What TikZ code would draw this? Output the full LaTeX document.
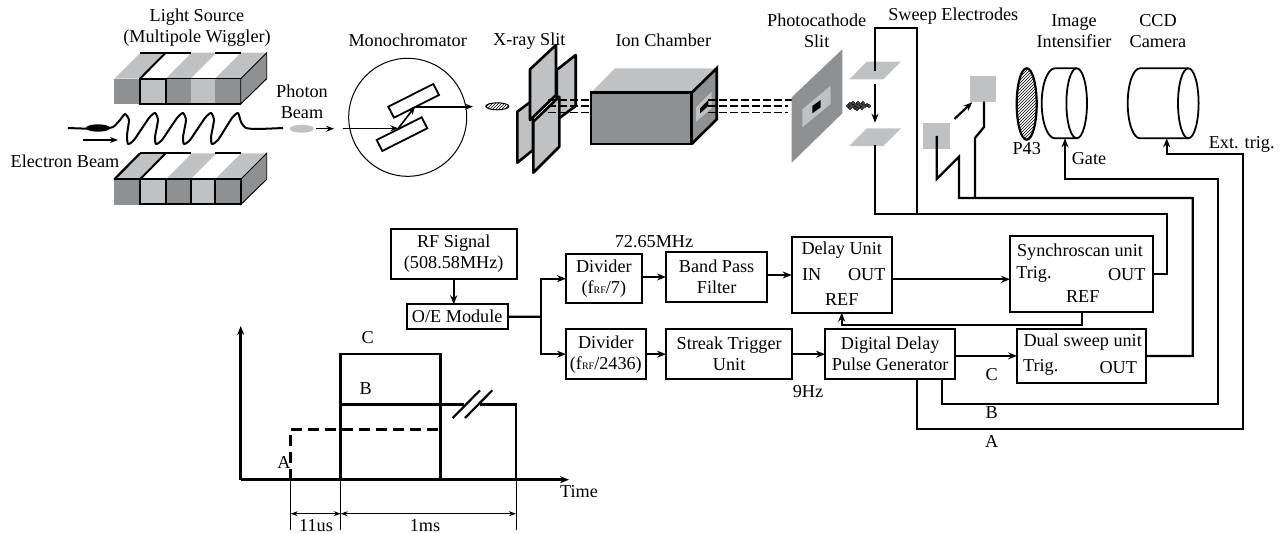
\documentclass[tikz,border=0pt]{standalone}
\usepackage{fontspec}
\setmainfont{Liberation Serif}
\usepackage{xcolor}
\usepackage{tikz}
\usetikzlibrary{arrows.meta, positioning, patterns}
\definecolor{dkg}{HTML}{8F9092}
\definecolor{ltg}{HTML}{C0C1C3}

\begin{document}
\begin{tikzpicture}[x=1pt, y=-1pt, node distance=24pt, font=\fontsize{18.2}{21}\selectfont]
	% Styles
	\tikzstyle{block} = [draw, line width=2.2pt, rectangle, inner sep=0pt, outer sep=0pt, align=center]
	\tikzstyle{lab} = [inner sep=0pt, align=center]
	\tikzstyle{wire} = [line width=2.2pt, line join=miter]
	\tikzstyle{arrow} = [line width=2.2pt, -{Stealth[length=9pt, width=7pt]}]
	\tikzstyle{slim} = [line width=1.6pt, -{Stealth[length=8pt, width=6pt]}]
	\tikzstyle{dim} = [line width=1pt]
	\tikzstyle{elec} = [fill=ltg, inner sep=0pt, outer sep=0pt, minimum width=26.7pt, minimum height=26.3pt]
	\tikzstyle{beam} = [line width=1.3pt, dash pattern=on 8pt off 3pt]
	\tikzstyle{jaw} = [fill=ltg, draw, line width=2.6pt, line join=round]
	\useasboundingbox (0,0) rectangle (1283,533);

	% Wiggler
	\foreach \ty in {78.7,179.3} {
		\foreach \xa/\xb/\fr/\tp in {114.3/140/dkg/ltg, 140/165.7/ltg/white, 165.7/190.7/dkg/ltg, 190.7/215/ltg/white, 215/240.7/dkg/ltg} {
			\fill [\fr] (\xa,\ty) rectangle (\xb,\ty+25.3);
			\fill [\tp] (\xa,\ty) -- (\xa+26,\ty-26) -- (\xb+26,\ty-26) -- (\xb,\ty) -- cycle;
		}
		\fill [dkg] (240.7,\ty) -- (266.7,\ty-26) -- (266.7,\ty) -- (240.7,\ty+25.3) -- cycle;
		\draw [line width=.9pt] (240.7,\ty) -- (266.7,\ty-26) -- (266.7,\ty) -- (240.7,\ty+25.3) -- cycle;
		\draw [line width=2pt] (140,\ty-26) -- (190.7,\ty-26) (215,\ty-26) -- (240.7,\ty-26);
		\draw [line width=2pt] (140,\ty) -- (165.7,\ty-26);
	}
	\draw [wire] (140,78.7) rectangle (165.7,104);
	\draw [line width=1.4pt] (165.7,104) -- (240.7,104) (165.7,78.7) -- (240.7,78.7);
	\draw [wire] (114.3,179.3) -- (140,153.3);
	\draw [wire] (114.3,179.3) -- (240.7,179.3);
	\draw [wire] (140,179.3) rectangle (240.7,204);
	\foreach \xa in {165.7,190.7,215} \draw [wire] (\xa,179.3) -- (\xa,204);
	\draw [line width=2pt, line join=round] plot [smooth, tension=.35] coordinates {(68,128) (100,129) (113,127) (120,120) (125,114) (129,120) (127,135) (128,144) (134,140) (149,118) (155,113) (158,120) (155,137) (156,144) (162,140) (177,118) (183,113) (186,120) (183,137) (184,144) (190,140) (205,118) (211,113) (214,120) (211,137) (212,144) (218,140) (232,118) (238,113) (241,122) (246,128) (258,129) (283,128)};
	\fill (98,128) ellipse [x radius=12pt, y radius=3.7pt];
	\coordinate (ebstart) at (83,140);
	\coordinate (ebend) at (118,140);
	\draw [slim] (ebstart) -- (ebend);
	\fill [ltg] (301.7,128.7) ellipse [x radius=12pt, y radius=4pt];
	\coordinate (pbstart) at (316,128.7);
	\coordinate (pbend) at (334,128.7);
	\draw [slim, line width=1.1pt] (pbstart) -- (pbend);
	\node [lab] at (197,27.5) {Light Source\\(Multipole Wiggler)};
	\node [lab] at (302,102) {Photon\\Beam};
	\node [lab] at (65,161) {Electron Beam};

	% Monochromator
	\draw [line width=1pt] (407.7,117.3) circle [radius=59pt];
	\draw [line width=1.8pt] (388.3,106.7) -- (433.3,84) -- (439,95) -- (394,117.7) -- cycle;
	\draw [line width=1.8pt] (376.7,140) -- (421.7,117.3) -- (427.3,128.3) -- (382.3,151) -- cycle;
	\coordinate (mcin) at (342.7,128.3);
	\coordinate (mcone) at (398.3,128.3);
	\coordinate (mctwo) at (415,106.7);
	\coordinate (mcout) at (473,106.7);
	\draw [slim] (mcin) -- (mcone);
	\draw [slim] (mcone) -- (mctwo);
	\draw [slim] (mctwo) -- (mcout);
	\node [lab] at (407.7,40.7) {Monochromator};
	\filldraw [pattern=north east lines, line width=1pt] (497.3,106.3) ellipse [x radius=11.5pt, y radius=3.5pt];

	% X-ray slit
	\node [lab] at (529.3,40.7) {X-ray Slit};
	\draw [jaw] (556.7,70) -- (575.7,55) -- (575.7,106) -- (556.7,120) -- cycle;
	\draw [jaw] (517.3,111.7) -- (533,100) -- (533,150) -- (517.3,162.7) -- cycle;
	\draw [jaw] (530,69.3) -- (556,45) -- (556,95) -- (530,120) -- cycle;
	\draw [jaw] (533.3,121.7) -- (559.3,96.7) -- (559.3,146.7) -- (533.3,172.7) -- cycle;
	\foreach \yb in {100,106,112.7} \draw [beam] (548,\yb) -- (591,\yb);

	% Ion chamber
	\node [lab] at (663.3,40) {Ion Chamber};
	\fill [ltg] (591,92.7) -- (615,68.3) -- (716.7,68.3) -- (691.7,92.7) -- cycle;
	\fill [dkg] (691.7,92.7) -- (716.7,68.3) -- (716.7,119.3) -- (691.7,144) -- cycle;
	\filldraw [fill=dkg, line width=2.6pt] (591,92.7) rectangle (691.7,144);
	\draw [line width=2.6pt] (691.7,92.7) -- (716.7,68.3) -- (716.7,119.3) -- (691.7,144);
	\fill [ltg] (696,107.3) -- (711.7,91.7) -- (711.7,108.3) -- (696,121.7) -- cycle;
	\fill (700,108.3) -- (708.3,100) -- (708.3,106) -- (700,113.3) -- cycle;
	\foreach \yb/\xb in {100/791.7,106/788,112.7/788} \draw [beam] (708,\yb) -- (\xb,\yb);

	% Photocathode
	\node [lab] at (816.7,31) {Photocathode\\Slit};
	\fill [dkg] (791.7,97.3) -- (842.3,49.3) -- (842.3,113.3) -- (791.7,162.7) -- cycle;
	\fill [ltg] (802.3,109.3) -- (830.7,85.7) -- (830.7,104) -- (802.3,127.3) -- cycle;
	\fill (812.3,106) -- (820.7,100) -- (820.7,107.3) -- (812.3,113.3) -- cycle;
	\foreach \xe/\ye in {848/106,850/104,850/108,853/106,853/103,855/108,856/105,858/103,859/107,861/105,862/108,863/103,865/106,867/105,869/106,857/109} \draw [line width=.9pt, fill=white] (\xe,\ye) circle [radius=1.4pt];

	% Sweep electrodes
	\node [lab] at (953.3,15.7) {Sweep Electrodes};
	\fill [ltg] (849.3,79.3) -- (866.7,61.7) -- (901,61.7) -- (883.3,79.3) -- cycle;
	\fill [ltg] (849.3,146) -- (866.7,128.3) -- (901,128.3) -- (883.3,146) -- cycle;
	\coordinate (upplate) at (875,70.7);
	\coordinate (lowplate) at (875,145);
	\coordinate (sweepa) at (875,84);
	\coordinate (sweepb) at (875,122.7);
	\draw [arrow] (sweepa) -- (sweepb);
	\node (sweepl) [elec] at (936.7,135.9) {};
	\node (sweepr) [elec] at (983,88.9) {};
	\coordinate (sweepc) at (954.3,119);
	\coordinate (sweepd) at (972.3,102.3);
	\draw [arrow] (sweepc) -- (sweepd);

	% Screen, intensifier, camera
	\filldraw [pattern=north east lines, line width=2.2pt] (1026.7,104) ellipse [x radius=10pt, y radius=35.7pt];
	\node [lab] at (1026.7,149) {P43};
	\draw [line width=1.8pt] (1055,68.3) arc [start angle=90, end angle=270, x radius=13.3pt, y radius=35pt] -- (1076.7,138.3) (1055,68.3) -- (1076.7,68.3);
	\draw [line width=1.8pt] (1076.7,103.3) ellipse [x radius=10.3pt, y radius=35pt];
	\draw [line width=1.8pt] (1140,68.3) arc [start angle=90, end angle=270, x radius=12.3pt, y radius=35pt] -- (1188.3,138.3) (1140,68.3) -- (1188.3,68.3);
	\draw [line width=1.8pt] (1188.3,103.3) ellipse [x radius=10.3pt, y radius=35pt];
	\coordinate (iibot) at (1065,138.3);
	\coordinate (ccdbot) at (1166.7,138.3);
	\node [lab] at (1074,31) {Image\\Intensifier};
	\node [lab] at (1158,31) {CCD\\Camera};
	\node [lab] at (1089,159) {Gate};
	\node [lab] at (1241.7,144) {Ext. trig.};

	% Nodes
	\node (rf) [block, minimum width=126pt, minimum height=50pt] at (453.7,254) {RF Signal\\(508.58MHz)};
	\node (oe) [block, below=25.3pt of rf, xshift=3.5pt, minimum width=101pt, minimum height=24.7pt] {O/E Module};
	\node (divone) [block, right=49.3pt of rf, yshift=-24.7pt, minimum width=75.7pt, minimum height=49.3pt] {Divider\\(f{\fontsize{10}{10}\selectfont RF}/7)};
	\node (divtwo) [block, below=26pt of divone, xshift=2pt, minimum width=79.7pt, minimum height=49.7pt] {Divider\\(f{\fontsize{10}{10}\selectfont RF}/2436)};
	\node (bandpass) [block, right=24.3pt of divone, yshift=1.7pt, minimum width=101.3pt, minimum height=49.4pt] {Band Pass\\Filter};
	\node (streak) [block, right=20.3pt of divtwo, minimum width=126.3pt, minimum height=49.7pt] {Streak Trigger\\Unit};
	\node (delay) [block, right=24.4pt of bandpass, yshift=2pt, minimum width=100.3pt, minimum height=75.4pt] {};
	\node (ddpg) [block, right=32.7pt of streak, minimum width=130.3pt, minimum height=50pt] {Digital Delay\\Pulse Generator};
	\node (sync) [block, right=118pt of delay, yshift=1.2pt, minimum width=142.7pt, minimum height=75.7pt] {};
	\node (dual) [block, right=61.7pt of ddpg, yshift=-1.7pt, minimum width=128.7pt, minimum height=54pt] {};
	\node [lab] at (841.7,250) {Delay Unit};
	\node [lab] at (811.7,274.3) {IN};
	\node [lab] at (866.7,274.3) {OUT};
	\node [lab] at (841.7,300) {REF};
	\node [lab] at (1080,252.3) {Synchroscan unit};
	\node [lab] at (1034,274.3) {Trig.};
	\node [lab] at (1126.7,274.3) {OUT};
	\node [lab] at (1082.7,296.7) {REF};
	\node [lab] at (1082.7,341.7) {Dual sweep unit};
	\node [lab] at (1040.7,367.7) {Trig.};
	\node [lab] at (1118.3,367.7) {OUT};
	\node [lab] at (654,242) {72.65MHz};
	\node [lab] at (808,392) {9Hz};
	\node [lab] at (991.7,375) {C};
	\node [lab] at (991.7,413) {B};
	\node [lab] at (991.7,441) {A};
	\coordinate (branch) at (540.7,316.7);
	\coordinate (atap) at (916.7,429.3);
	\coordinate (btap) at (942,404);

	% Connections
	\draw [arrow] (rf) -- (rf |- oe.north);
	\draw [wire] (oe) -- (branch);
	\draw [arrow] (branch) |- (divone);
	\draw [arrow] (branch) |- (divtwo);
	\draw [arrow] (divone.east |- bandpass) -- (bandpass);
	\draw [arrow] (divtwo) -- (streak);
	\draw [arrow] (bandpass.east |- delay) -- (delay);
	\draw [arrow] (streak) -- (ddpg);
	\draw [arrow] ([yshift=-4.3pt]delay.east) -- ([yshift=-4.3pt]delay.east -| sync.west);
	\draw [arrow] (ddpg.east |- dual) -- (dual);
	\draw [arrow] (sync.south -| 1082,0) |- (841.7,325.3) -- (841.7,312.7);
	\draw [wire] (sync.east) -| (1167,214) -- (875,214) -- (lowplate);
	\draw [wire] (917,214) -- (917,28.3) -- (875,28.3) -- (upplate);
	\draw [wire] (dual.east) -| (1192.7,198) -- (959,198) -- (959,156.7) -- (936.7,179) -- (sweepl.center);
	\draw [wire] (975,198) -- (975,138) -- (984,127) -- (984,101.7);
	\draw [arrow] (btap |- ddpg.south) -- (btap) -| (1217.7,179.3) -| (iibot);
	\draw [arrow] (atap |- ddpg.south) -- (atap) -| (1242.7,154) -| (ccdbot);

	% Timing
	\coordinate (org) at (240.7,479.7);
	\coordinate (ytop) at (240.7,326);
	\coordinate (xend) at (569,479.7);
	\draw [arrow, line width=2.8pt] (org) -- (ytop);
	\draw [arrow, line width=2.8pt] (org) -- (xend);
	\draw [line width=2.8pt, dash pattern=on 11pt off 6pt] (290.7,479.7) -- (290.7,429.3) -- (440.7,429.3);
	\draw [line width=2.8pt] (340.7,479.7) -- (340.7,354) -- (440.7,354) -- (440.7,479.7);
	\draw [line width=2.4pt] (340.7,404.3) -- (516,404.3) -- (516,479.7);
	\draw [white, line width=5pt] (464,404.3) -- (480,404.3);
	\draw [line width=2.2pt] (452.7,418) -- (480,390.3) (465,418) -- (492.3,390.3);
	\foreach \xt in {290.7,340.7,516} \draw [dim] (\xt,479.7) -- (\xt,530);
	\coordinate (tone) at (290.7,513.7);
	\coordinate (ttwo) at (340.7,513.7);
	\coordinate (tthree) at (516,513.7);
	\draw [dim, {Stealth[length=7pt, width=5pt]}-{Stealth[length=7pt, width=5pt]}] (tone) -- (ttwo);
	\draw [dim, {Stealth[length=7pt, width=5pt]}-{Stealth[length=7pt, width=5pt]}] (ttwo) -- (tthree);
	\node [lab] at (316,525.5) {11us};
	\node [lab] at (425,525.5) {1ms};
	\node [lab] at (579,492) {Time};
	\node [lab] at (284,462.7) {A};
	\node [lab] at (365.7,389) {B};
	\node [lab] at (367.7,337.7) {C};
\end{tikzpicture}
\end{document}
